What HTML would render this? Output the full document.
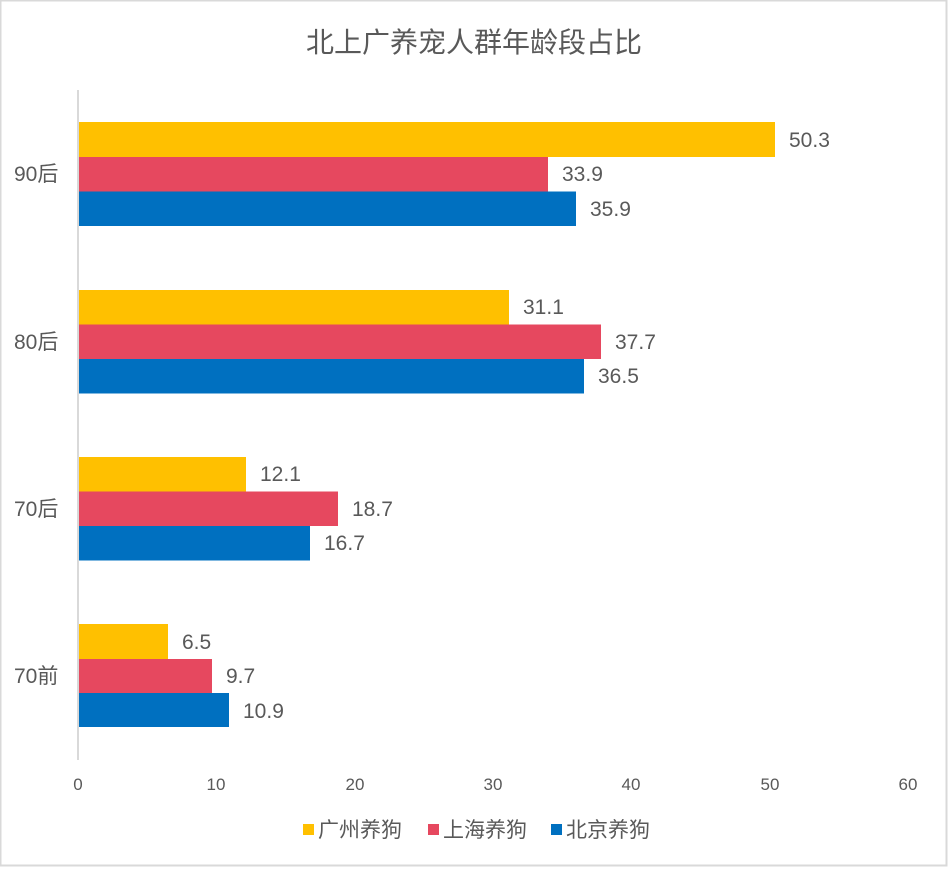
<!DOCTYPE html>
<html><head><meta charset="utf-8"><style>
body{margin:0;background:#fff}
</style></head><body>
<svg width="948" height="867" xmlns="http://www.w3.org/2000/svg" font-family="'Liberation Sans','Noto Sans CJK SC',sans-serif">
<rect x="0.5" y="0.5" width="946" height="865" fill="#fff" stroke="#d9d9d9" stroke-width="2"/>
<text x="474" y="52" font-size="28" fill="#595959" text-anchor="middle">北上广养宠人群年龄段占比</text>
<line x1="78" y1="90" x2="78" y2="760" stroke="#d9d9d9" stroke-width="2"/>
<g font-size="21" fill="#595959">
<rect x="79" y="122" width="696" height="35" fill="#FFC000"/>
<rect x="79" y="157" width="469" height="34.5" fill="#E6485F"/>
<rect x="79" y="191.5" width="497" height="34.5" fill="#0070C0"/>
<text x="789" y="147">50.3</text><text x="562" y="181">33.9</text><text x="590" y="216">35.9</text>
<text x="14" y="181">90后</text>
<rect x="79" y="290" width="430" height="34.5" fill="#FFC000"/>
<rect x="79" y="324.5" width="522" height="34.5" fill="#E6485F"/>
<rect x="79" y="359" width="505" height="34.5" fill="#0070C0"/>
<text x="523" y="314">31.1</text><text x="615" y="349">37.7</text><text x="598" y="383">36.5</text>
<text x="14" y="349">80后</text>
<rect x="79" y="457" width="167" height="34.5" fill="#FFC000"/>
<rect x="79" y="491.5" width="259" height="34.5" fill="#E6485F"/>
<rect x="79" y="526" width="231" height="34.5" fill="#0070C0"/>
<text x="260" y="481">12.1</text><text x="352" y="516">18.7</text><text x="324" y="550">16.7</text>
<text x="14" y="516">70后</text>
<rect x="79" y="624" width="89" height="35" fill="#FFC000"/>
<rect x="79" y="659" width="133" height="34" fill="#E6485F"/>
<rect x="79" y="693" width="150" height="34" fill="#0070C0"/>
<text x="182" y="649">6.5</text><text x="226" y="683">9.7</text><text x="243" y="718">10.9</text>
<text x="14" y="683">70前</text>
</g>
<g font-size="17" fill="#595959" text-anchor="middle">
<text x="78" y="790">0</text><text x="216" y="790">10</text><text x="355" y="790">20</text><text x="493" y="790">30</text><text x="631" y="790">40</text><text x="770" y="790">50</text><text x="908" y="790">60</text>
</g>
<g font-size="21" fill="#595959">
<rect x="303" y="824" width="11" height="11" fill="#FFC000"/><text x="318" y="837">广州养狗</text>
<rect x="428" y="824" width="11" height="11" fill="#E6485F"/><text x="443" y="837">上海养狗</text>
<rect x="551" y="824" width="11" height="11" fill="#0070C0"/><text x="566" y="837">北京养狗</text>
</g>
</svg>
</body></html>
